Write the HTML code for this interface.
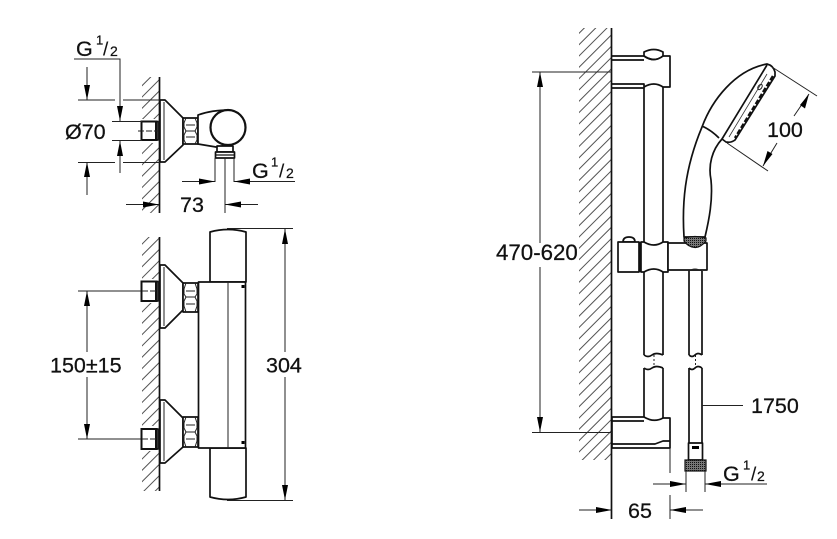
<!DOCTYPE html>
<html><head><meta charset="utf-8"><style>
html,body{margin:0;padding:0;background:#fff}
svg{display:block}
text{font-family:"Liberation Sans",sans-serif;fill:#111;stroke:#111;stroke-width:.25}
.t{font-size:21.5px}
.s1{font-size:13px}.s2{font-size:19px;stroke-width:.1}.s3{font-size:14px}
.m{fill:#fff;stroke:#111;stroke-width:1.7;stroke-linejoin:round}
.n{fill:none;stroke:#111;stroke-width:1.7;stroke-linejoin:round}
.d{fill:none;stroke:#222;stroke-width:1}
.a{fill:#000}
.h{fill:url(#hatch)}
.k{fill:url(#dark);stroke:#111;stroke-width:1.2}
</style></head><body>
<svg width="837" height="539" viewBox="0 0 837 539" xmlns="http://www.w3.org/2000/svg">
<defs>
<pattern id="hatch" width="8" height="10" patternUnits="userSpaceOnUse" patternTransform="rotate(45)"><line x1="1" y1="0" x2="1" y2="10" stroke="#333" stroke-width=".85"/></pattern>
<pattern id="dark" width="2" height="2" patternUnits="userSpaceOnUse"><rect width="2" height="2" fill="#777"/><rect width="1" height="1" fill="#111"/></pattern>
</defs>

<!-- TOP LEFT -->
<rect class="h" x="142" y="77" width="17" height="136"/>
<rect x="138" y="119" width="21" height="24" fill="#fff"/>
<line class="n" x1="159.500" y1="77" x2="159.500" y2="213"/>
<path class="m" d="M160 100H165L183 118V145L165 162H160Z"/>
<line class="d" x1="164" y1="102" x2="164" y2="160"/>
<rect x="141.500" y="121.500" width="14.500" height="18.500" fill="#fff" stroke="#111" stroke-width="2"/>
<path class="n" d="M156 121.500H158V140H156"/>
<line class="d" x1="138" y1="131" x2="158" y2="131" stroke-dasharray="6 2"/>
<path class="m" d="M183 118H198V144H183Z"/>
<path class="d" d="M186 118L184 123V127L186 131L184 135V140L186 144M195 118L197 123V127L195 131L197 135V140L195 144M186 125H195M186 131H195M186 137H195"/>
<path class="m" d="M198 115C206 112 216 110 230 110L222 147H216L198 144Z"/>
<circle cx="228" cy="127.500" r="17.500" fill="#fff" stroke="#111" stroke-width="2.200"/>
<path class="m" d="M217 146H233V152H217Z"/>
<path class="m" d="M215.500 152H234.500V158H215.500Z"/>
<line x1="216" y1="155" x2="234" y2="155" stroke="#111" stroke-width="1.200"/>

<path class="d" d="M74 59H120V121M112 121.500H142M112 140.500H142M120 141V173"/>
<path class="a" d="M120 121L117 106H123ZM120 141L117 156H123Z"/>
<path class="d" d="M87 67V100M78 100H115M123 100H160M78 162.500H115M123 162.500H160M87 162V195"/>
<path class="a" d="M87 100L84 85H90ZM87 162L84 177H90Z"/>
<path class="d" d="M215 158V182M234 158V182M182 181.500H215M234 181.500H295"/>
<path class="a" d="M215 181.500L199 178.500V184.500ZM234 181.500L250 178.500V184.500Z"/>
<path class="d" d="M126 204.500H159M225 158V213M225 204.500H258"/>
<path class="a" d="M159 204.500L143 201.500V207.500ZM225 204.500L241 201.500V207.500Z"/>

<text class="t" x="76" y="56">G</text>
<text class="s1" x="96" y="44.500">1</text><text class="s2" x="103" y="55.500">/</text><text class="s3" x="110" y="56">2</text>
<text class="t" x="252" y="178">G</text>
<text class="s1" x="271" y="166.500">1</text><text class="s2" x="279" y="177.500">/</text><text class="s3" x="286" y="178">2</text>
<text class="t" x="65" y="139">Ø70</text>
<text class="t" x="180" y="212">73</text>

<!-- BOTTOM LEFT -->
<rect class="h" x="142" y="237" width="17" height="254"/>
<rect x="138" y="279" width="21" height="24" fill="#fff"/>
<rect x="138" y="426" width="21" height="25" fill="#fff"/>
<line class="n" x1="159.500" y1="237" x2="159.500" y2="491"/>
<path class="m" d="M160 265H165L183 283V310L165 328H160Z"/>
<path class="m" d="M160 400H165L183 418V447L165 463H160Z"/>
<line class="d" x1="164" y1="267" x2="164" y2="326"/><line class="d" x1="164" y1="402" x2="164" y2="461"/>
<path class="m" d="M183 283H198V312H183Z"/>
<path class="m" d="M183 417H198V447H183Z"/>
<path class="d" d="M186 283L184 289V294L186 297L184 301V306L186 312M195 283L197 289V294L195 297L197 301V306L195 312M186 291H195M186 297H195M186 304H195M186 417L184 423V428L186 432L184 436V441L186 447M195 417L197 423V428L195 432L197 436V441L195 447M186 425H195M186 432H195M186 439H195"/>
<rect x="141.500" y="281.500" width="14.500" height="19.500" fill="#fff" stroke="#111" stroke-width="2"/>
<rect x="141.500" y="429" width="14.500" height="20" fill="#fff" stroke="#111" stroke-width="2"/>
<path class="n" d="M156 281.500H158V301H156M156 429H158V449H156"/>
<path class="d" d="M142 291H158M142 439H158" stroke-dasharray="6 2"/>
<path class="m" d="M210 282V232Q228 227 246 232V282Z"/>
<path class="m" d="M210 448V497Q228 502 246 497V448Z"/>
<rect class="m" x="198.500" y="282" width="47" height="166"/>
<line class="d" x1="228" y1="282" x2="228" y2="448"/>
<rect class="a" x="241.500" y="285" width="3" height="3"/><rect class="a" x="241.500" y="441" width="3" height="3"/>
<path class="d" d="M78 291H141M78 439H141M87 291V352M87 377V439"/>
<path class="a" d="M87 291L84 306H90ZM87 439L84 424H90Z"/>
<path class="d" d="M227 228.500H293M227 500.500H293M285 229V352M285 377V500"/>
<path class="a" d="M285 229L282 244H288ZM285 500L282 485H288Z"/>
<text class="t" x="50" y="372.500">150±15</text>
<text class="t" x="266" y="372.500">304</text>

<!-- RIGHT: WALL -->
<rect class="h" x="579" y="28" width="33" height="432"/>
<line class="n" x1="611.500" y1="28" x2="611.500" y2="519"/>
<!-- top bracket -->
<path class="m" d="M644 52Q654 47 663 52V56Q654 63 644 56Z"/>
<path class="n" d="M612 56H644Q654 63 663 56H670V87H663Q654 81 644 87V84H612M612 60H644M612 88H644"/>
<!-- rail -->
<path class="n" d="M644 87V242M663 87V242M644 272V355M663 272V355M644 368V418M663 368V418"/>
<path class="d" d="M654 355V368" stroke-dasharray="2 2"/>
<path class="n" d="M644 355Q648 358 652 355T663 355M644 368Q648 371 652 368T663 368"/>
<!-- bottom bracket -->
<path class="m" d="M612 417H644Q654 423 663 418H670V448H612Z"/>
<path class="n" d="M612 421H644M612 444H655L663 441H670"/>
<!-- clamp -->
<path class="m" d="M623 242Q623 237 629 237Q635 237 635 242Z"/>
<rect class="m" x="618" y="242" width="21" height="30"/>
<line x1="640" y1="242" x2="640" y2="272" stroke="#111" stroke-width="2.200"/>
<path class="m" d="M641 242H644Q654 248 663 242H668V272H663Q654 266 644 272H641Z"/>
<path class="m" d="M668 243H707V270H668Z"/>
<path d="M688 271Q695 266 702 271Z" fill="#222"/>
<!-- hose -->
<path class="n" d="M689 271V355M702 271V355M689 368V443M702 368V443"/>
<path class="d" d="M695.500 355V368" stroke-dasharray="2 2"/>
<path class="n" d="M689 355Q692 358 695 355T702 355M689 368Q692 371 695 368T702 368"/>
<rect class="m" x="688.500" y="443" width="14" height="17"/>
<rect class="a" x="692" y="446" width="7" height="3"/>
<rect class="k" x="685" y="460" width="21" height="11"/>
<!-- hand shower -->
<path class="m" d="M684 237C682 205 684 170 702 127C712 100 735 70 767 64C771 65 774 68 775 72L775 76L735 140Q731 143 726 142L722 139C712 150 708 165 711 180C713 200 709 220 705 237Z"/>
<path class="n" d="M767 65L722 139M702 126Q711 130 719 138"/>
<ellipse cx="760" cy="87" rx="1.800" ry="3" transform="rotate(35 760 87)" fill="#fff" stroke="#222"/>
<path d="M773 76L735 138" stroke="#111" stroke-width="2.500" stroke-dasharray="5 2" fill="none"/>
<path d="M767 74L729 137" stroke="#333" stroke-width=".8" fill="none"/>
<path class="k" d="M684 238Q695 235 706 238V241Q700 248 695 247.500Q688 247 684 241Z"/>
<!-- dims -->
<path class="d" d="M532 72H612M532 432.500H612M540 72V243M540 267V432"/>
<path class="a" d="M540 72L537 87H543ZM540 432L537 417H543Z"/>
<path class="d" d="M772 67L817 96M727 143L768 171M794 116L809 94M777 143L763 166"/>
<path class="a" d="M809 94L800 105L805 108.500ZM763 166L767.500 151L772.500 154Z"/>
<path class="d" d="M670 448V473M670 495V519M686 471V492M705 471V492M653 484H686M705 484H767M579 510H612M670 510H703M702 405.500H743"/>
<path class="a" d="M686 484L670 481V487ZM705 484L721 481V487ZM612 510L596 507V513ZM670 510L686 507V513Z"/>
<text class="t" x="496" y="260" style="font-size:22.300px">470-620</text>
<text class="t" x="767" y="137">100</text>
<text class="t" x="751" y="413">1750</text>
<text class="t" x="628" y="518">65</text>
<text class="t" x="723" y="481">G</text>
<text class="s1" x="743" y="469.500">1</text><text class="s2" x="751" y="480.500">/</text><text class="s3" x="757" y="481">2</text>
</svg>
</body></html>
